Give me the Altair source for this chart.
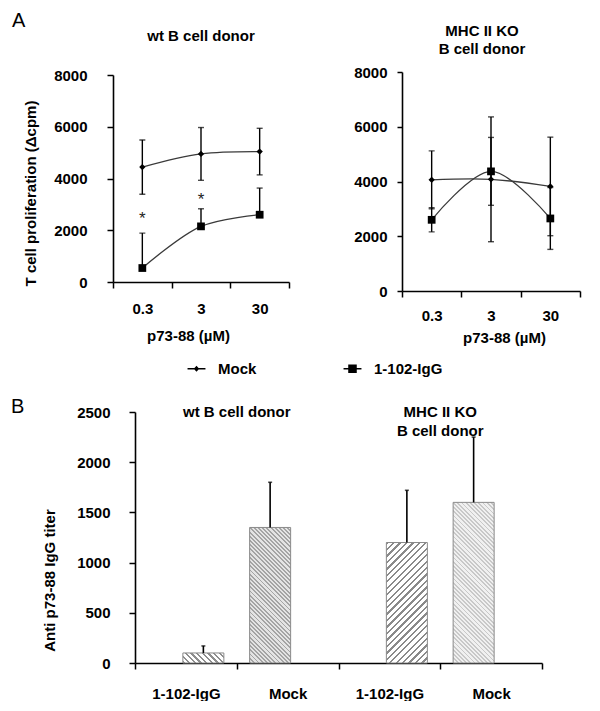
import math
import altair as alt
import pandas as pd

FONT = "Liberation Sans"

# ---------------- data ----------------
conc = ["0.3", "3", "30"]
series = ["Mock", "1-102-IgG"]

# panel A, wt B cell donor
wt_mock = [4440, 4950, 5040]
wt_mock_err_up = [1050, 1020, 900]
wt_mock_err_dn = [1050, 1020, 900]
wt_igg = [540, 2150, 2600]
wt_igg_err_up = [1350, 680, 1030]
wt_igg_err_dn = [0, 0, 0]
wt_sig = [True, True, False]

# panel A, MHC II KO B cell donor
ko_mock = [4060, 4080, 3820]
ko_mock_err_up = [1060, 2280, 1800]
ko_mock_err_dn = [1060, 2280, 1800]
ko_igg = [2600, 4370, 2650]
ko_igg_err_up = [440, 1240, 1130]
ko_igg_err_dn = [440, 1240, 1130]
ko_sig = [False, False, False]

y_ticks_a = [0, 2000, 4000, 6000, 8000]

# panel B
bar_ids = ["wt|1-102-IgG", "wt|Mock", "ko|1-102-IgG", "ko|Mock"]
bar_series = ["1-102-IgG", "Mock", "1-102-IgG", "Mock"]
bar_values = [100, 1350, 1200, 1600]
bar_err = [70, 450, 520, 650]
group_anchor = ["wt|1-102-IgG", "ko|1-102-IgG"]
group_titles = [["wt B cell donor"], ["MHC II KO", "B cell donor"]]
y_ticks_b = [0, 500, 1000, 1500, 2000, 2500]

# hatch style per bar: direction, spacing(px), line fraction, line colour, background
bar_hatch = [("\\", 4.2, 0.38, "#8e8e8e", "#ffffff"),
             ("\\", 3.0, 0.45, "#a4a4a4", "#e4e4e4"),
             ("/", 4.6, 0.36, "#8a8a8a", "#ffffff"),
             ("\\", 3.0, 0.40, "#c8c8c8", "#f0f0f0")]

B_W, B_H, B_YMAX, BAR_W = 429, 251, 2500, 41


def panel_df(mock, mock_up, mock_dn, igg, igg_up, igg_dn, sig):
    rows = []
    for i, c in enumerate(conc):
        rows.append(dict(conc=c, series="Mock", value=mock[i],
                         lo=mock[i] - mock_dn[i], hi=mock[i] + mock_up[i]))
        rows.append(dict(conc=c, series="1-102-IgG", value=igg[i],
                         lo=igg[i] - igg_dn[i], hi=igg[i] + igg_up[i]))
    df = pd.DataFrame(rows)
    stars = []
    for i, c in enumerate(conc):
        if sig[i]:
            stars.append(dict(conc=c, y=((mock[i] - mock_dn[i]) + (igg[i] + igg_up[i])) / 2))
    return df, pd.DataFrame(stars, columns=["conc", "y"])


def line_panel(df, stars, width, height, yrange, title, yaxis, xaxis, legend=False):
    base = alt.Chart(df)
    x = alt.X("conc:N", sort=conc,
              scale=alt.Scale(type="band", domain=conc, paddingInner=0, paddingOuter=0),
              axis=xaxis)
    y = alt.Y("value:Q", scale=alt.Scale(domain=[0, 8000], range=yrange, nice=False),
              axis=yaxis)
    lines = base.mark_line(color="#3a3a3a", strokeWidth=1.3, interpolate="catmull-rom").encode(
        x=x, y=y, detail="series:N")
    err = base.mark_rule(color="black", strokeWidth=1.4).encode(
        x=alt.X("conc:N", sort=conc), y="lo:Q", y2="hi:Q")
    cap_hi = base.mark_tick(color="black", size=6, thickness=1.4).encode(
        x=alt.X("conc:N", sort=conc), y="hi:Q")
    cap_lo = base.mark_tick(color="black", size=6, thickness=1.4).encode(
        x=alt.X("conc:N", sort=conc), y="lo:Q")
    pts_m = base.transform_filter(alt.datum.series == "Mock").mark_point(
        shape="diamond", filled=True, size=40, color="black", opacity=1).encode(
        x=alt.X("conc:N", sort=conc), y="value:Q")
    pts_i = base.transform_filter(alt.datum.series == "1-102-IgG").mark_point(
        shape="square", filled=True, size=60, color="black", opacity=1).encode(
        x=alt.X("conc:N", sort=conc), y="value:Q")
    layers = [lines, err, cap_hi, cap_lo, pts_m, pts_i]
    if len(stars):
        st = alt.Chart(stars).mark_text(text="*", font=FONT, fontSize=17, color="#222",
                                        baseline="middle", dy=5).encode(
            x=alt.X("conc:N", sort=conc), y="y:Q")
        layers.append(st)
    if legend:
        leg_df = pd.DataFrame({"series": series})
        diamond_line = ("M-1.3,-0.1H-0.3L0,-0.45L0.3,-0.1H1.3V0.1H0.3L0,0.45L-0.3,0.1"
                        "H-1.3Z")
        square_line = ("M-1.3,-0.1H-0.62V-0.62H0.62V-0.1H1.3V0.1H0.62V0.62H-0.62V0.1"
                       "H-1.3Z")
        lg = alt.Chart(leg_df).mark_point(filled=True, opacity=0, color="black",
                                          fill="black").encode(
            shape=alt.Shape("series:N",
                            scale=alt.Scale(domain=series, range=[diamond_line, square_line]),
                            legend=alt.Legend(orient="none", legendX=76, legendY=289,
                                              direction="horizontal", title=None,
                                              symbolSize=190, symbolOpacity=1,
                                              symbolFillColor="black",
                                              symbolStrokeColor="black",
                                              symbolStrokeWidth=0,
                                              labelFont=FONT, labelFontSize=15,
                                              labelFontWeight="bold", labelColor="black",
                                              labelOffset=14, columnPadding=86,
                                              padding=0)))
        layers.append(lg)
    return alt.layer(*layers).properties(width=width, height=height, title=title)


df_wt, st_wt = panel_df(wt_mock, wt_mock_err_up, wt_mock_err_dn, wt_igg, wt_igg_err_up,
                        wt_igg_err_dn, wt_sig)
df_ko, st_ko = panel_df(ko_mock, ko_mock_err_up, ko_mock_err_dn, ko_igg, ko_igg_err_up,
                        ko_igg_err_dn, ko_sig)

axis_common = dict(domainColor="black", domainWidth=1.6, tickColor="black", tickWidth=1.5,
                   labelFont=FONT, labelFontSize=15, labelFontWeight="bold",
                   labelColor="black", titleFont=FONT, titleFontSize=15,
                   titleFontWeight="bold", titleColor="black", grid=False)

left = line_panel(
    df_wt, st_wt, 176, 210, [210, 3],
    alt.TitleParams("wt B cell donor", anchor="middle", frame="group", offset=12,
                    baseline="alphabetic", font=FONT, fontSize=15, fontWeight="bold",
                    color="black"),
    alt.Axis(values=y_ticks_a, format="d", tickSize=6, labelPadding=20,
             title="T cell proliferation (\u0394cpm)", titleX=-83, titleY=121,
             titleBaseline="middle", **axis_common),
    alt.Axis(tickBand="extent", labelAngle=0, tickSize=6, labelPadding=13,
             title="p73-88 (\u00b5M)", titleX=75, titlePadding=12, **axis_common),
    legend=True,
)

right = line_panel(
    df_ko, st_ko, 178, 219, [219, 0],
    alt.TitleParams(["MHC II KO", "B cell donor"], anchor="middle", frame="group",
                    offset=0, dy=4, dx=-9, lineHeight=18, baseline="alphabetic", font=FONT,
                    fontSize=15, fontWeight="bold", color="black"),
    alt.Axis(values=y_ticks_a, format="d", tickSize=5, labelPadding=10, title=None,
             **axis_common),
    alt.Axis(tickBand="extent", labelAngle=0, tickSize=6, labelPadding=11,
             title="p73-88 (\u00b5M)", titleX=102, titlePadding=7, **axis_common),
)

top = alt.hconcat(left, right, spacing=113, bounds="flush")

# ---------------- panel B ----------------
bdf = pd.DataFrame({"id": bar_ids, "series": bar_series, "value": bar_values,
                    "err": bar_err})
bdf["top"] = bdf["value"] + bdf["err"]
gdf = pd.DataFrame({"anchor": group_anchor, "lines": group_titles})


def hatch_gradient(value, style):
    direction, spacing, frac, line_c, bg_c = style
    w = float(BAR_W)
    h = max(value / B_YMAX * B_H, 1.0)
    k = (w + h) / (w * w + h * h)
    n = max(1, int(round((w + h) / (spacing * math.sqrt(2)))))
    stops = []
    for i in range(n):
        a, b, c = i / n, (i + frac) / n, (i + 1) / n
        stops += [alt.GradientStop(offset=a, color=line_c),
                  alt.GradientStop(offset=b, color=line_c),
                  alt.GradientStop(offset=b, color=bg_c),
                  alt.GradientStop(offset=c, color=bg_c)]
    if direction == "/":
        return alt.LinearGradient(gradient="linear", stops=stops,
                                  x1=0, y1=0, x2=k * w, y2=k * h)
    return alt.LinearGradient(gradient="linear", stops=stops,
                              x1=0, y1=1, x2=k * w, y2=1 - k * h)


xb = alt.X("id:N", sort=bar_ids,
           scale=alt.Scale(domain=bar_ids, range=[22, B_W], paddingInner=0, paddingOuter=0),
           axis=alt.Axis(tickBand="extent", labelAngle=0, tickSize=6, labelPadding=17,
                         labelExpr="split(datum.value, '|')[1]", title=None, **axis_common))
xoff = alt.XOffset("series:N", scale=alt.Scale(domain=["Mock", "1-102-IgG"],
                                               paddingInner=0.5, paddingOuter=0.704))
yb = alt.Y("value:Q", scale=alt.Scale(domain=[0, B_YMAX], nice=False),
           axis=alt.Axis(values=y_ticks_b, format="d", tickSize=6, labelPadding=19,
                         offset=-22, title="Anti p73-88 IgG titer", titleX=-86,
                         titleY=168, titleBaseline="middle", **axis_common))

bar_layers = []
for i, bid in enumerate(bar_ids):
    grad = hatch_gradient(bar_values[i], bar_hatch[i])
    bar_layers.append(
        alt.Chart(bdf).transform_filter(alt.datum.id == bid).mark_bar(
            width=BAR_W, fill=grad, stroke="#8a8a8a", strokeWidth=1).encode(
            x=xb, xOffset=xoff, y=yb))

berr = alt.Chart(bdf).mark_rule(color="black", strokeWidth=1.6).encode(
    x=alt.X("id:N", sort=bar_ids), xOffset="series:N", y="value:Q", y2="top:Q")
bcap = alt.Chart(bdf).mark_tick(color="black", size=4, thickness=1.6).encode(
    x=alt.X("id:N", sort=bar_ids), xOffset="series:N", y="top:Q")
gtxt = alt.Chart(gdf).mark_text(font=FONT, fontSize=15, fontWeight="bold", color="black",
                                baseline="top", dy=-7, lineHeight=19).encode(
    x=alt.X("anchor:N", bandPosition=1), y=alt.datum(2500), text="lines")

bottom = alt.layer(*bar_layers, berr, bcap, gtxt).properties(
    width=B_W, height=B_H,
    title=alt.TitleParams("B", anchor="start", frame="group", dx=-102, dy=28, offset=0,
                          baseline="alphabetic", font=FONT, fontSize=20,
                          fontWeight="normal", color="black"))

chart = alt.vconcat(top, bottom, spacing=340, bounds="flush").properties(
    title=alt.TitleParams("A", anchor="start", frame="group", dx=-101, dy=23, offset=0,
                          baseline="alphabetic", font=FONT, fontSize=20,
                          fontWeight="normal", color="black"),
    padding={"left": 3, "top": 3, "right": 3, "bottom": 0},
).configure_view(stroke=None)

chart.save("out.html", embed_options={"renderer": "svg", "actions": False})
